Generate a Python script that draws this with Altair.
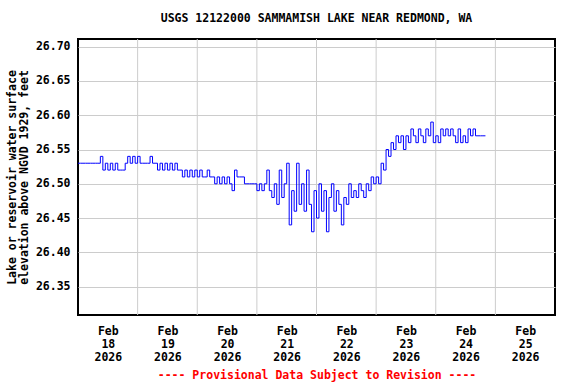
import altair as alt
import pandas as pd

# Hourly gage readings (feet), starting Feb 18 2026 00:00
feb18 = [26.53, 26.53, 26.53, 26.53, 26.53, 26.53, 26.53, 26.53, 26.53, 26.54, 26.52, 26.53,
         26.52, 26.53, 26.52, 26.53, 26.52, 26.52, 26.52, 26.53, 26.54, 26.53, 26.54, 26.53]
feb19 = [26.54, 26.53, 26.53, 26.53, 26.53, 26.54, 26.53, 26.53, 26.52, 26.53, 26.52, 26.53,
         26.52, 26.53, 26.52, 26.53, 26.52, 26.52, 26.51, 26.52, 26.51, 26.52, 26.51, 26.52]
feb20 = [26.51, 26.52, 26.51, 26.51, 26.52, 26.51, 26.51, 26.50, 26.51, 26.50, 26.51, 26.50,
         26.51, 26.50, 26.49, 26.52, 26.51, 26.51, 26.51, 26.50, 26.50, 26.50, 26.50, 26.50]
feb21 = [26.49, 26.50, 26.49, 26.50, 26.52, 26.49, 26.48, 26.50, 26.47, 26.52, 26.48, 26.50,
         26.53, 26.44, 26.49, 26.46, 26.53, 26.47, 26.50, 26.46, 26.52, 26.47, 26.43, 26.49]
feb22 = [26.45, 26.50, 26.46, 26.49, 26.43, 26.48, 26.50, 26.46, 26.49, 26.47, 26.44, 26.48,
         26.47, 26.50, 26.48, 26.49, 26.48, 26.50, 26.49, 26.48, 26.50, 26.49, 26.51, 26.50]
feb23 = [26.51, 26.50, 26.53, 26.52, 26.55, 26.54, 26.56, 26.55, 26.57, 26.56, 26.57, 26.55,
         26.57, 26.56, 26.58, 26.57, 26.56, 26.58, 26.57, 26.56, 26.58, 26.57, 26.59, 26.56]
feb24 = [26.57, 26.56, 26.58, 26.57, 26.58, 26.57, 26.58, 26.57, 26.56, 26.58, 26.56, 26.57,
         26.56, 26.58, 26.57, 26.58, 26.57, 26.57, 26.57, 26.57, 26.57]

grid_days = ["2026-02-19T00:00:00Z", "2026-02-20T00:00:00Z", "2026-02-21T00:00:00Z",
             "2026-02-22T00:00:00Z", "2026-02-23T00:00:00Z", "2026-02-24T00:00:00Z",
             "2026-02-25T00:00:00Z"]
label_days = [18, 19, 20, 21, 22, 23, 24, 25]
y_ticks = [26.35, 26.40, 26.45, 26.50, 26.55, 26.60, 26.65, 26.70]

values = feb18 + feb19 + feb20 + feb21 + feb22 + feb23 + feb24
times = pd.date_range("2026-02-18 00:00", periods=len(values), freq="h")
df = pd.DataFrame({"time": times.strftime("%Y-%m-%dT%H:%M:%SZ"), "elev": values})
grid_df = pd.DataFrame({"time": grid_days})

FONT = "DejaVu Sans Mono"
FS = 11.5

xscale = alt.Scale(type="utc",
                   domain=[alt.DateTime(year=2026, month=2, date=18, utc=True),
                           alt.DateTime(year=2026, month=2, date=26, utc=True)])
yscale = alt.Scale(domain=[26.3086, 26.7112], nice=False, zero=False)

grid = alt.Chart(grid_df).mark_rule(color="#cccccc", strokeWidth=1).encode(
    x=alt.X("time:T", scale=xscale)
)

line = alt.Chart(df).mark_line(color="#0000ff", strokeWidth=1, interpolate="step-after").encode(
    x=alt.X("time:T", scale=xscale,
            axis=alt.Axis(
                title="---- Provisional Data Subject to Revision ----",
                titleColor="#ff0000", titleFont=FONT, titleFontSize=FS, titleFontWeight="bold",
                titlePadding=7,
                values=[alt.DateTime(year=2026, month=2, date=d, hours=12, utc=True) for d in label_days],
                labelExpr="[utcFormat(datum.value, '%b'), utcFormat(datum.value, '%d'), utcFormat(datum.value, '%Y')]",
                labelFont=FONT, labelFontSize=FS, labelFontWeight="bold", labelColor="black",
                labelLineHeight=13, labelPadding=10, labelAngle=0,
                ticks=False, domain=False, grid=False, labelFlush=False, labelOverlap=False)),
    y=alt.Y("elev:Q", scale=yscale,
            axis=alt.Axis(
                title=["Lake or reservoir water surface", "elevation above NGVD 1929, feet"],
                titleFont=FONT, titleFontSize=FS, titleFontWeight="bold", titleColor="black",
                titleLineHeight=12, titlePadding=6,
                values=y_ticks, format=".2f",
                labelFont=FONT, labelFontSize=FS, labelFontWeight="bold", labelColor="black",
                labelPadding=8, ticks=False, domain=False,
                grid=True, gridColor="#cccccc", gridWidth=1)),
)

chart = alt.layer(grid, line).properties(
    width=477, height=276,
    title=alt.TitleParams("USGS 12122000 SAMMAMISH LAKE NEAR REDMOND, WA",
                          font=FONT, fontSize=FS, fontWeight="bold", color="black",
                          anchor="middle", offset=14),
    autosize=alt.AutoSizeParams(type="none"),
    padding={"left": 78, "top": 39, "right": 21, "bottom": 69},
    background="white",
).configure_view(stroke="black", strokeWidth=2)

chart.save("out.html", embed_options={"renderer": "svg", "actions": False})
